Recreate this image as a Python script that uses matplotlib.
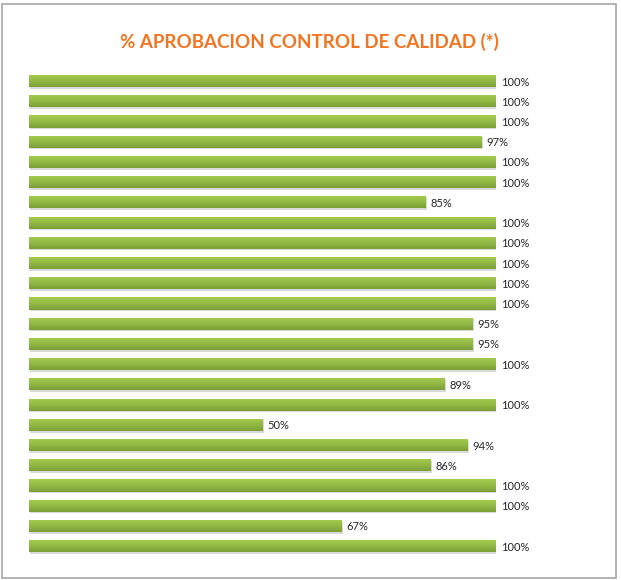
import matplotlib
matplotlib.use("Agg")
import matplotlib.pyplot as plt
import numpy as np
from matplotlib.colors import LinearSegmentedColormap
from matplotlib.patches import Rectangle

categories = [f"item{i+1}" for i in range(24)]
values = [100, 100, 100, 97, 100, 100, 85, 100, 100, 100, 100, 100,
          95, 95, 100, 89, 100, 50, 94, 86, 100, 100, 67, 100]
title = "% APROBACION CONTROL DE CALIDAD (*)"

plt.rcParams['font.family'] = ['Lato', 'DejaVu Sans']

W, H = 621, 580
fig = plt.figure(figsize=(W / 100, H / 100), dpi=100)
fig.patch.set_facecolor("white")

# outer border
fig.add_artist(Rectangle((1.5 / W, 1 - 577.5 / H), (616 - 1.5) / W, (577.5 - 3.5) / H,
                         transform=fig.transFigure, fill=False, edgecolor="#A6A6A6", lw=1.2))

ax = fig.add_axes([29 / W, 1 - 556.3 / H, 467 / W, (556.3 - 70.9) / H])
ax.set_xlim(0, 100)
y = np.arange(len(values))
ax.set_ylim(len(values) - 0.5, -0.5)
ax.axis("off")

cmap = LinearSegmentedColormap.from_list("g", ["#A6CB4E", "#93BA45", "#7C9E37"])
grad = np.linspace(0, 1, 64).reshape(-1, 1)

# shadows
ax.barh(y + 0.08, values, height=0.6, color="#D9D9D9", zorder=1, left=0.3)
bars = ax.barh(y, values, height=0.6, color="#8DB440", zorder=2)
for b in bars:
    x0, y0 = b.get_x(), b.get_y()
    w, h = b.get_width(), b.get_height()
    im = ax.imshow(grad, cmap=cmap, aspect="auto", extent=(x0, x0 + w, y0 + h, y0),
                   zorder=3, interpolation="bilinear")
    im.set_clip_path(b)

for yi, v in zip(y, values):
    ax.text(v + 1.0, yi + 0.05, f"{v}%", va="center", ha="left", fontsize=8, color="#262626")

fig.text(309 / W, 1 - 42 / H, title, ha="center", va="center", fontsize=13.5,
         fontweight="bold", color="#F4731F")

fig.savefig("out.png", dpi=100)
